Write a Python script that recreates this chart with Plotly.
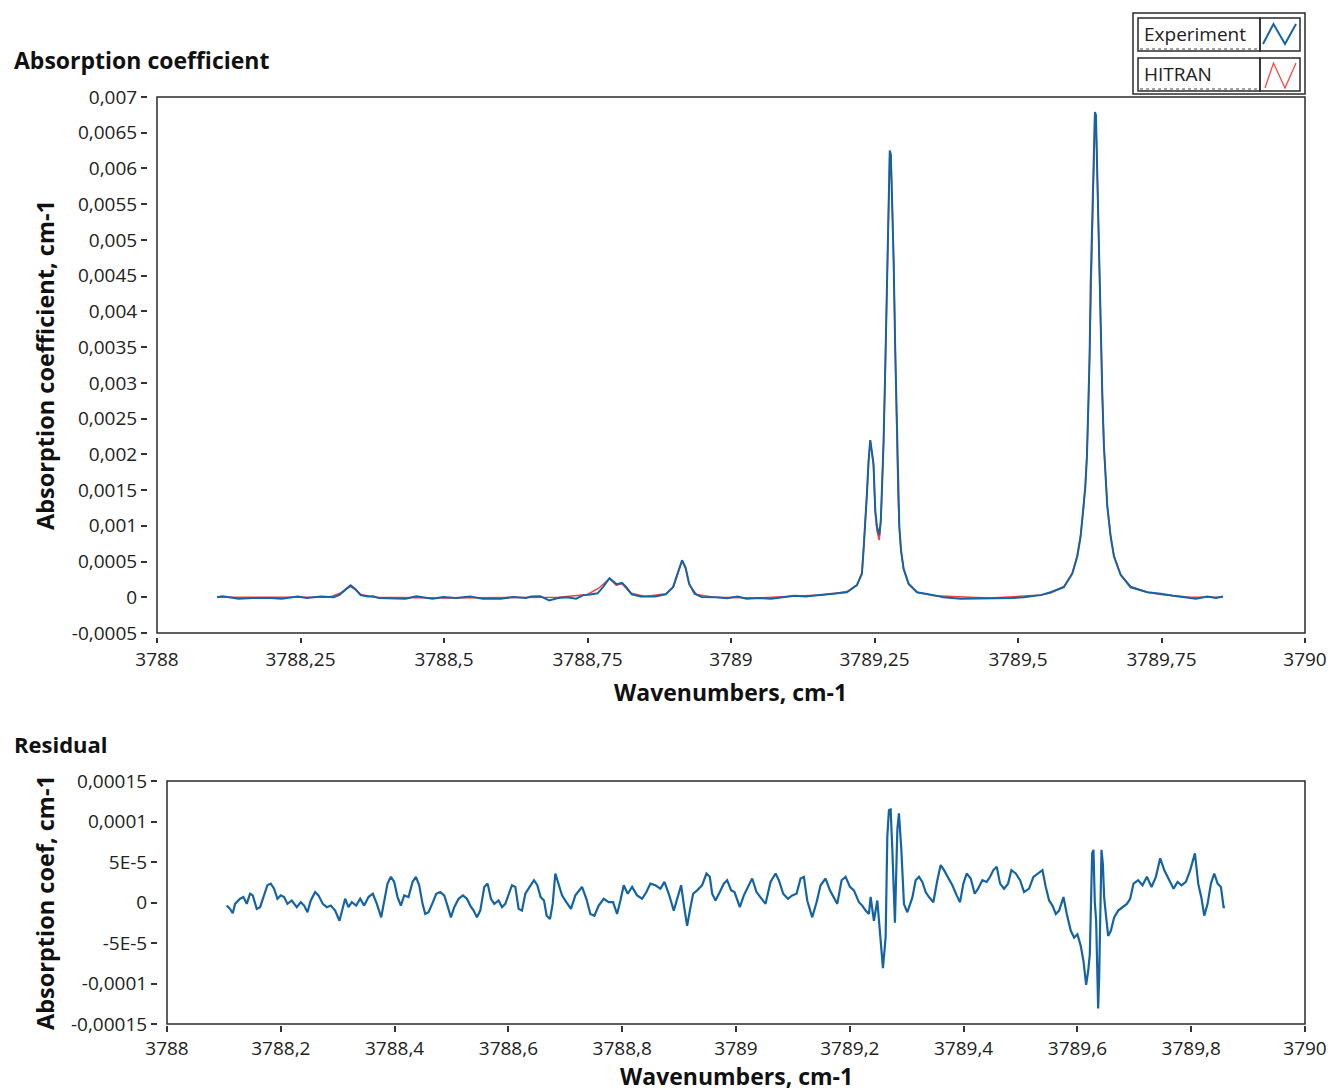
import plotly.graph_objects as go

# ---------------- data ----------------
exp_wn = [3788.1046, 3788.1140, 3788.1421, 3788.1672, 3788.1984, 3788.2172, 3788.2453, 3788.2610,
          3788.2860, 3788.3079, 3788.3172, 3788.3266, 3788.3372, 3788.3454, 3788.3548, 3788.3673,
          3788.3766, 3788.3860, 3788.4110, 3788.4329, 3788.4517, 3788.4642, 3788.4799, 3788.4986,
          3788.5206, 3788.5456, 3788.5675, 3788.5987, 3788.6206, 3788.6425, 3788.6519, 3788.6676,
          3788.6833, 3788.6989, 3788.7145, 3788.7301, 3788.7426, 3788.7552, 3788.7675, 3788.7770,
          3788.7883, 3788.7958, 3788.8007, 3788.8101, 3788.8176, 3788.8271, 3788.8428, 3788.8677,
          3788.8864, 3788.8990, 3788.9084, 3788.9147, 3788.9209, 3788.9271, 3788.9365, 3788.9490,
          3788.9740, 3788.9928, 3789.0115, 3789.0272, 3789.0490, 3789.0700, 3789.0900, 3789.1100,
          3789.1300, 3789.1553, 3789.1785, 3789.2019, 3789.2194, 3789.2281, 3789.2309, 3789.2339,
          3789.2368, 3789.2396, 3789.2426, 3789.2452, 3789.2483, 3789.2513, 3789.2543, 3789.2583,
          3789.2610, 3789.2630, 3789.2658, 3789.2688, 3789.2717, 3789.2740, 3789.2766, 3789.2784,
          3789.2805, 3789.2833, 3789.2862, 3789.2892, 3789.2909, 3789.2932, 3789.2962, 3789.3007,
          3789.3094, 3789.3241, 3789.3531, 3789.3700, 3789.4000, 3789.4300, 3789.4600, 3789.4900,
          3789.5100, 3789.5250, 3789.5393, 3789.5567, 3789.5799, 3789.5946, 3789.6033, 3789.6091,
          3789.6138, 3789.6173, 3789.6201, 3789.6225, 3789.6248, 3789.6265, 3789.6295, 3789.6323,
          3789.6340, 3789.6358, 3789.6382, 3789.6410, 3789.6440, 3789.6469, 3789.6497, 3789.6527,
          3789.6556, 3789.6614, 3789.6672, 3789.6789, 3789.6963, 3789.7255, 3789.7487, 3789.7700,
          3789.7900, 3789.8100, 3789.8300, 3789.8450, 3789.8570]
exp_abs = [0.0, 0.000015, -0.00002, -0.00001, -0.00001, -0.00002, 0.00001, -0.00001,
           0.00001, 0.0, 0.00003, 0.0001, 0.000166, 0.000116, 0.00003, 0.00001,
           0.000015, -0.00001, -0.000015, -0.00002, 0.000015, 0.0, -0.00002, 0.000005,
           -0.00001, 0.00001, -0.00002, -0.00002, 0.000005, -0.00001, 0.00001, 0.000015,
           -0.000045, -0.00001, 0.0, -0.00002, 0.00003, 0.00004, 0.000055, 0.000141,
           0.000267, 0.000216, 0.000181, 0.000201, 0.000141, 0.00004, 0.00001, 0.00001,
           0.00004, 0.000141, 0.000367, 0.000518, 0.000417, 0.000191, 0.00005, 0.000005,
           0.0, -0.000015, 0.00001, -0.00002, -0.00001, -0.00002, 0.0, 0.00002,
           0.00001, 0.00003, 0.00005, 0.00007, 0.00017, 0.00033, 0.00066, 0.00101,
           0.00145, 0.0019, 0.0022, 0.00205, 0.00187, 0.00122, 0.00099, 0.00087,
           0.00108, 0.00152, 0.00218, 0.00323, 0.00445, 0.0057, 0.00625, 0.0062,
           0.0057, 0.00473, 0.00342, 0.0023, 0.0015, 0.00099, 0.00066, 0.0004,
           0.00019, 0.00007, 0.00003, 0.0, -0.00002, -0.00002, -0.00001, -0.00001,
           0.0, 0.00002, 0.00003, 0.00007, 0.00014, 0.00033, 0.00057, 0.00085,
           0.0012, 0.00155, 0.00197, 0.00258, 0.00339, 0.00435, 0.0054, 0.00632,
           0.00679, 0.00675, 0.00582, 0.00477, 0.00374, 0.00283, 0.00211, 0.00164,
           0.00127, 0.00085, 0.00057, 0.00031, 0.00014, 0.00007, 0.00005, 0.00002,
           0.0, -0.00002, 0.00001, -0.00001, 0.00001]

hit_wn = [3788.1046, 3788.3000, 3788.3200, 3788.3300, 3788.3372, 3788.3450, 3788.3550, 3788.3800,
          3788.5000, 3788.6000, 3788.7000, 3788.7500, 3788.7700, 3788.7883, 3788.8000, 3788.8101,
          3788.8250, 3788.8500, 3788.8864, 3788.9000, 3788.9084, 3788.9147, 3788.9209, 3788.9271,
          3788.9400, 3788.9700, 3789.0500, 3789.1553, 3789.1785, 3789.2019, 3789.2194, 3789.2281,
          3789.2309, 3789.2339, 3789.2368, 3789.2396, 3789.2426, 3789.2452, 3789.2483, 3789.2513,
          3789.2543, 3789.2583, 3789.2610, 3789.2630, 3789.2658, 3789.2688, 3789.2717, 3789.2740,
          3789.2766, 3789.2784, 3789.2805, 3789.2833, 3789.2862, 3789.2892, 3789.2909, 3789.2932,
          3789.2962, 3789.3007, 3789.3094, 3789.3241, 3789.3531, 3789.4500, 3789.5393, 3789.5567,
          3789.5799, 3789.5946, 3789.6033, 3789.6091, 3789.6138, 3789.6173, 3789.6201, 3789.6225,
          3789.6248, 3789.6265, 3789.6295, 3789.6323, 3789.6340, 3789.6358, 3789.6382, 3789.6410,
          3789.6440, 3789.6469, 3789.6497, 3789.6527, 3789.6556, 3789.6614, 3789.6672, 3789.6789,
          3789.6963, 3789.7255, 3789.7487, 3789.8000, 3789.8570]
hit_abs = [0.0, 0.0, 0.00006, 0.00012, 0.00015, 0.00011, 0.00004, 0.0,
           -0.00001, -0.00001, 0.0, 0.00004, 0.00013, 0.00026, 0.00017, 0.00019,
           0.00006, 0.00001, 0.00005, 0.00015, 0.00036, 0.00051, 0.0004, 0.00018,
           0.00004, 0.0, -0.00001, 0.00003, 0.00005, 0.00008, 0.00017, 0.00034,
           0.00066, 0.001, 0.00144, 0.00188, 0.0022, 0.00203, 0.00183, 0.00118,
           0.00093, 0.0008, 0.00105, 0.0015, 0.00216, 0.0032, 0.00442, 0.00565,
           0.0062, 0.00618, 0.00568, 0.0047, 0.0034, 0.00228, 0.00148, 0.00098,
           0.00064, 0.00039, 0.00018, 0.00007, 0.00002, -0.00001, 0.00003, 0.00006,
           0.00015, 0.00034, 0.00059, 0.00087, 0.00121, 0.00157, 0.002, 0.0026,
           0.00341, 0.00437, 0.00542, 0.0063, 0.00672, 0.00668, 0.0058, 0.00478,
           0.00375, 0.00284, 0.00212, 0.00165, 0.00128, 0.00086, 0.00058, 0.00032,
           0.00015, 0.00007, 0.00004, 0.0, 0.0]

res_wn = [3788.10496, 3788.11082, 3788.11551, 3788.11961, 3788.12841, 3788.13427, 3788.14013, 3788.14600,
          3788.15069, 3788.15773, 3788.16359, 3788.16945, 3788.17649, 3788.18235, 3788.18821, 3788.19408,
          3788.19994, 3788.20580, 3788.21167, 3788.21929, 3788.22809, 3788.23512, 3788.24099, 3788.24685,
          3788.25271, 3788.26033, 3788.26620, 3788.27382, 3788.28086, 3788.28789, 3788.29551, 3788.30314,
          3788.30900, 3788.31310, 3788.31897, 3788.32483, 3788.33245, 3788.33949, 3788.34653, 3788.35415,
          3788.36178, 3788.36881, 3788.37643, 3788.38171, 3788.38757, 3788.39343, 3788.39930, 3788.40516,
          3788.41102, 3788.41689, 3788.42451, 3788.43155, 3788.43741, 3788.44327, 3788.44913, 3788.45383,
          3788.45969, 3788.46731, 3788.47318, 3788.48021, 3788.48725, 3788.49195, 3788.49898, 3788.50484,
          3788.51247, 3788.52009, 3788.52713, 3788.53298, 3788.53886, 3788.54472, 3788.55057, 3788.55761,
          3788.56347, 3788.56934, 3788.57520, 3788.58282, 3788.58869, 3788.59455, 3788.60041, 3788.60627,
          3788.61214, 3788.61800, 3788.62386, 3788.62973, 3788.63735, 3788.64498, 3788.65084, 3788.65671,
          3788.66257, 3788.66726, 3788.67312, 3788.67781, 3788.68250, 3788.68836, 3788.69423, 3788.70185,
          3788.71006, 3788.71768, 3788.72941, 3788.73703, 3788.74406, 3788.75110, 3788.75872, 3788.76751,
          3788.77631, 3788.78393, 3788.79097, 3788.79683, 3788.80270, 3788.80973, 3788.81736, 3788.82615,
          3788.83495, 3788.84257, 3788.84960, 3788.85840, 3788.86720, 3788.87423, 3788.88186, 3788.89065,
          3788.89769, 3788.90355, 3788.90941, 3788.91411, 3788.91997, 3788.92466, 3788.93170, 3788.94049,
          3788.94811, 3788.95398, 3788.95808, 3788.96394, 3788.97157, 3788.97861, 3788.98447, 3788.99151,
          3788.99736, 3789.00675, 3789.01378, 3789.02082, 3789.02844, 3789.03606, 3789.04310, 3789.05189,
          3789.06069, 3789.06948, 3789.07534, 3789.08297, 3789.09118, 3789.09880, 3789.10642, 3789.11346,
          3789.11932, 3789.12519, 3789.13398, 3789.14160, 3789.14864, 3789.15743, 3789.16505, 3789.17092,
          3789.17796, 3789.18558, 3789.19261, 3789.20024, 3789.20727, 3789.21607, 3789.22193, 3789.22779,
          3789.23365, 3789.23659, 3789.24239, 3789.24837, 3789.25418, 3789.25822, 3789.26297, 3789.26596,
          3789.26878, 3789.27177, 3789.27476, 3789.27757, 3789.27933, 3789.28355, 3789.28637, 3789.29059,
          3789.29516, 3789.30114, 3789.30988, 3789.31574, 3789.32160, 3789.32747, 3789.33333, 3789.33919,
          3789.34682, 3789.35385, 3789.35972, 3789.36558, 3789.37262, 3789.38024, 3789.38786, 3789.39373,
          3789.39959, 3789.40545, 3789.41249, 3789.41953, 3789.42539, 3789.43301, 3789.44063, 3789.44650,
          3789.45236, 3789.45822, 3789.46409, 3789.47112, 3789.47816, 3789.48402, 3789.49164, 3789.49927,
          3789.50630, 3789.51510, 3789.52272, 3789.52976, 3789.53856, 3789.54442, 3789.55028, 3789.55615,
          3789.56201, 3789.56787, 3789.57550, 3789.58136, 3789.58839, 3789.59426, 3789.60012, 3789.60598,
          3789.61068, 3789.61537, 3789.61888, 3789.62181, 3789.62357, 3789.62592, 3789.62826, 3789.63061,
          3789.63295, 3789.63471, 3789.63647, 3789.63823, 3789.63998, 3789.64233, 3789.64468, 3789.64702,
          3789.64996, 3789.65406, 3789.65875, 3789.66462, 3789.67165, 3789.67927, 3789.68690, 3789.69276,
          3789.69862, 3789.70683, 3789.71446, 3789.72208, 3789.73029, 3789.73791, 3789.74554, 3789.75257,
          3789.76137, 3789.76899, 3789.77603, 3789.78306, 3789.79068, 3789.79831, 3789.80651, 3789.81238,
          3789.81824, 3789.82293, 3789.82880, 3789.83466, 3789.84052, 3789.84639, 3789.85224, 3789.85694,
          3789.85928]
# residual values in units of 1e-5 cm-1
res_e5 = [-0.38, -0.79, -1.33, -0.17, 0.46, 0.67, -0.17, 1.08,
          0.88, -0.79, -0.58, 0.67, 2.13, 2.33, 1.71, 0.46,
          0.88, 0.67, -0.17, 0.25, -0.58, 0.04, -0.38, -1.21,
          0.25, 1.29, 0.88, -0.17, -0.58, -0.38, -1.0, -2.25,
          -0.79, 0.46, -0.58, 0.04, -0.38, 0.46, -0.38, 0.67,
          1.08, -0.17, -1.83, 0.04, 2.33, 3.17, 2.54, 0.67,
          -0.38, 0.88, 0.67, 2.54, 3.17, 2.13, -0.17, -1.42,
          -1.21, 0.04, 1.08, 1.29, 0.88, -0.17, -1.83, -0.58,
          0.46, 0.88, 0.46, -0.38, -1.0, -1.83, -1.0, 1.92,
          2.33, 0.46, -0.17, 0.25, -0.58, -0.17, 1.08, 2.13,
          1.92, -0.79, -1.0, 1.08, 1.92, 2.75, 2.13, 0.67,
          0.25, -1.63, -2.04, -0.17, 3.58, 2.33, 0.88, 0.04,
          -0.79, 0.88, 1.92, 0.46, -1.42, -1.63, -0.38, 0.46,
          0.04, 0.04, -1.42, 0.25, 2.13, 1.08, 1.92, 0.88,
          0.46, 1.29, 2.33, 2.13, 1.71, 2.54, 1.08, -1.0,
          0.88, 2.13, -0.79, -2.88, -0.58, 1.08, 1.5, 2.13,
          3.58, 3.17, 1.08, 0.25, 1.29, 2.33, 2.75, 1.5,
          1.29, -0.58, 0.88, 1.92, 2.96, 1.29, 0.67, -0.17,
          2.54, 3.58, 2.75, 1.08, 0.46, 0.88, 1.08, 2.96,
          3.17, 0.25, -1.83, 0.04, 2.13, 2.96, 1.5, 0.67,
          -0.17, 2.75, 3.17, 1.92, 1.5, 0.04, -0.38, -1.0,
          -1.42, 0.7, -2.25, 0.25, -5.2, -8.1, -4.3, 8.2,
          11.4, 11.5, 6.5, -0.2, -2.5, 9.0, 11.0, 6.5,
          -0.2, -1.2, 0.6, 2.75, 3.17, 2.54, 1.29, 0.67,
          0.04, 2.75, 4.63, 4.0, 3.17, 2.13, 0.88, 0.04,
          2.33, 3.58, 2.96, 1.08, 1.71, 2.75, 2.54, 3.17,
          4.0, 4.42, 2.33, 1.71, 2.33, 4.0, 3.58, 2.75,
          1.29, 1.71, 3.17, 3.58, 4.0, 1.92, 0.25, -0.38,
          -1.42, -1.0, 0.67, -1.42, -3.5, -4.33, -3.92, -5.38,
          -7.25, -10.17, -8.5, -6.42, 0.67, 6.08, 6.5, 0.0,
          -2.25, -6.42, -13.08, -9.33, -0.17, 6.5, 4.83, 0.67,
          -1.42, -4.13, -3.5, -1.83, -1.0, -0.58, -0.17, 0.46,
          2.33, 2.75, 2.13, 3.17, 1.92, 3.17, 5.46, 4.0,
          2.75, 1.71, 2.54, 2.13, 2.54, 4.0, 6.08, 2.33,
          0.46, -1.63, -0.17, 2.33, 3.58, 2.33, 1.92, -0.58,
          -0.58]

top_xticks = [3788, 3788.25, 3788.5, 3788.75, 3789, 3789.25, 3789.5, 3789.75, 3790]
top_xlabels = ["3788", "3788,25", "3788,5", "3788,75", "3789", "3789,25", "3789,5", "3789,75", "3790"]
top_yticks = [-0.0005, 0, 0.0005, 0.001, 0.0015, 0.002, 0.0025, 0.003, 0.0035, 0.004,
              0.0045, 0.005, 0.0055, 0.006, 0.0065, 0.007]
top_ylabels = ["-0,0005", "0", "0,0005", "0,001", "0,0015", "0,002", "0,0025", "0,003", "0,0035",
               "0,004", "0,0045", "0,005", "0,0055", "0,006", "0,0065", "0,007"]
bot_xticks = [3788, 3788.2, 3788.4, 3788.6, 3788.8, 3789, 3789.2, 3789.4, 3789.6, 3789.8, 3790]
bot_xlabels = ["3788", "3788,2", "3788,4", "3788,6", "3788,8", "3789", "3789,2", "3789,4",
               "3789,6", "3789,8", "3790"]
bot_yticks = [-0.00015, -0.0001, -0.00005, 0, 0.00005, 0.0001, 0.00015]
bot_ylabels = ["-0,00015", "-0,0001", "-5E-5", "0", "5E-5", "0,0001", "0,00015"]

# ---------------- styling / layout ----------------
W, H = 1329, 1092
FONT = "Open Sans"
BLUE = "#1464A5"
RED = "#FF3B3B"
FRAME = "#2b2b2b"


def fx(p):
    return p / W


def fy(p):
    return 1 - p / H


res_val = [v * 1e-5 for v in res_e5]

fig = go.Figure()
fig.add_trace(go.Scatter(x=hit_wn, y=hit_abs, mode="lines", name="HITRAN",
                         line=dict(color=RED, width=1.5), xaxis="x", yaxis="y"))
fig.add_trace(go.Scatter(x=exp_wn, y=exp_abs, mode="lines", name="Experiment",
                         line=dict(color=BLUE, width=2), xaxis="x", yaxis="y"))
fig.add_trace(go.Scatter(x=res_wn, y=res_val, mode="lines", name="Residual",
                         line=dict(color=BLUE, width=2.2), xaxis="x2", yaxis="y2"))

tickfont = dict(family=FONT, size=19, color="#222222")
axis_common = dict(showgrid=False, zeroline=False, showline=False, ticks="outside",
                   tickcolor="#333333", tickwidth=1.5, tickfont=tickfont, fixedrange=True,
                   automargin=False)

fig.update_layout(
    template="none",
    width=W, height=H, autosize=False,
    margin=dict(l=0, r=0, t=0, b=0, pad=0),
    paper_bgcolor="white", plot_bgcolor="white",
    showlegend=False,
    xaxis=dict(domain=[fx(157), fx(1305)], range=[3788, 3790], anchor="free", position=fy(637),
               tickvals=top_xticks, ticktext=top_xlabels, ticklen=5, **axis_common),
    yaxis=dict(domain=[fy(633), fy(97)], range=[-0.0005, 0.007], anchor="free", position=fx(147),
               tickvals=top_yticks, ticktext=top_ylabels, ticklen=6, **axis_common),
    xaxis2=dict(domain=[fx(167), fx(1305)], range=[3788, 3790], anchor="free", position=fy(1025),
                tickvals=bot_xticks, ticktext=bot_xlabels, ticklen=6, **axis_common),
    yaxis2=dict(domain=[fy(1024), fy(781)], range=[-0.00015, 0.00015], anchor="free", position=fx(157),
                tickvals=bot_yticks, ticktext=bot_ylabels, ticklen=6, **axis_common),
)

shapes = []
# plot frames
shapes.append(dict(type="rect", xref="paper", yref="paper", x0=fx(157), x1=fx(1305), y0=fy(633), y1=fy(97),
                   line=dict(color=FRAME, width=1.5), layer="above"))
shapes.append(dict(type="rect", xref="paper", yref="paper", x0=fx(167), x1=fx(1305), y0=fy(1024), y1=fy(781),
                   line=dict(color=FRAME, width=1.5), layer="above"))
# legend frame
shapes.append(dict(type="rect", xref="paper", yref="paper", x0=fx(1133), x1=fx(1305), y0=fy(94), y1=fy(13),
                   line=dict(color=FRAME, width=1.5), fillcolor="white", layer="above"))
for top, bot in [(18, 51), (58, 91)]:
    shapes.append(dict(type="rect", xref="paper", yref="paper", x0=fx(1138), x1=fx(1260), y0=fy(bot), y1=fy(top),
                       line=dict(color=FRAME, width=1.5), layer="above"))
    shapes.append(dict(type="rect", xref="paper", yref="paper", x0=fx(1260), x1=fx(1300), y0=fy(bot), y1=fy(top),
                       line=dict(color=FRAME, width=1.5), layer="above"))
    shapes.append(dict(type="line", xref="paper", yref="paper", x0=fx(1140), x1=fx(1258), y0=fy(bot - 2),
                       y1=fy(bot - 2), line=dict(color="#444444", width=1, dash="dot"), layer="above"))


def zig(points):
    return "M " + " L ".join(f"{fx(a):.5f},{fy(b):.5f}" for a, b in points)


shapes.append(dict(type="path", xref="paper", yref="paper",
                   path=zig([(1263, 44), (1273.5, 24), (1285, 44), (1296, 24)]),
                   line=dict(color=BLUE, width=2), layer="above"))
shapes.append(dict(type="path", xref="paper", yref="paper",
                   path=zig([(1265, 88), (1273.5, 63), (1285, 88), (1296, 63)]),
                   line=dict(color=RED, width=1.2), layer="above"))
fig.update_layout(shapes=shapes)

bold = dict(family=FONT, size=23, color="#111111")
ann = [
    dict(text="<b>Absorption coefficient</b>", x=fx(12), y=fy(60), xanchor="left", yanchor="middle", font=bold),
    dict(text="<b>Residual</b>", x=fx(12), y=fy(744), xanchor="left", yanchor="middle",
         font=dict(family=FONT, size=22, color="#111111")),
    dict(text="<b>Absorption coefficient, cm-1</b>", x=fx(45), y=fy(365), xanchor="center", yanchor="middle",
         textangle=-90, font=dict(family=FONT, size=23.5, color="#111111")),
    dict(text="<b>Absorption coef, cm-1</b>", x=fx(45), y=fy(903), xanchor="center", yanchor="middle",
         textangle=-90, font=dict(family=FONT, size=23.5, color="#111111")),
    dict(text="<b>Wavenumbers, cm-1</b>", x=fx(730), y=fy(692), xanchor="center", yanchor="middle", font=bold),
    dict(text="<b>Wavenumbers, cm-1</b>", x=fx(736), y=fy(1076), xanchor="center", yanchor="middle", font=bold),
    dict(text="Experiment", x=fx(1142), y=fy(34), xanchor="left", yanchor="middle",
         font=dict(family=FONT, size=19, color="#222222")),
    dict(text="HITRAN", x=fx(1142), y=fy(74), xanchor="left", yanchor="middle",
         font=dict(family=FONT, size=19, color="#222222")),
]
for a in ann:
    a.update(xref="paper", yref="paper", showarrow=False)
fig.update_layout(annotations=ann)

fig.write_html("out.html", config={"displayModeBar": False},
               post_script="document.body.style.margin='0';document.body.style.overflow='hidden';")
